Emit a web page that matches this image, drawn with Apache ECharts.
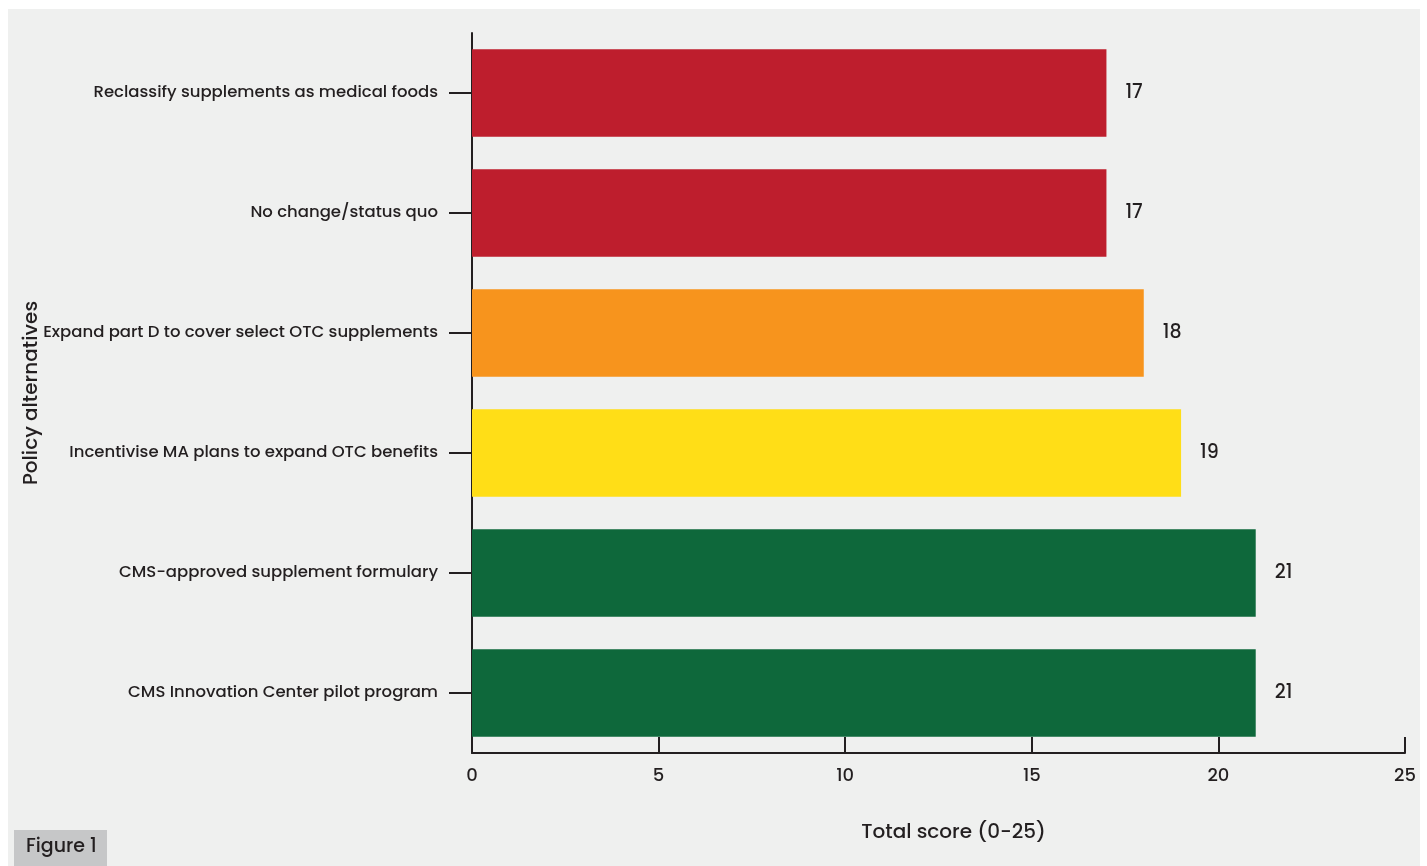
<!DOCTYPE html>
<html>
<head>
<meta charset="utf-8">
<script src="https://cdn.jsdelivr.net/npm/echarts@6/dist/echarts.min.js"></script>
<style>
  * { margin: 0; padding: 0; }
  body { background: #ffffff; width: 1427px; height: 866px; overflow: hidden; }
  #chart { position: absolute; left: 8px; top: 9px; width: 1412px; height: 857px; background: #eff0ef; }
</style>
</head>
<body>
<div id="chart"></div>
<script>
// data
var categories = [
  'Reclassify supplements as medical foods',
  'No change/status quo',
  'Expand part D to cover select OTC supplements',
  'Incentivise MA plans to expand OTC benefits',
  'CMS-approved supplement formulary',
  'CMS Innovation Center pilot program'
]
var scores = [17, 17, 18, 19, 21, 21]
var barColors = ['#be1e2d', '#be1e2d', '#f7941d', '#ffde17', '#0e683b', '#0e683b']

var fontFam = 'Poppins, "Open Sans", sans-serif'
var ink = '#231f20'

var chart = echarts.init(document.getElementById('chart'))
chart.setOption({
  animation: false,
  grid: { left: 464, right: 15, top: 24, bottom: 113, outerBoundsMode: 'none' },
  xAxis: {
    type: 'value',
    min: 0,
    max: 25,
    interval: 5,
    name: 'Total score (0-25)',
    nameLocation: 'middle',
    nameGap: 70,
    nameTextStyle: { fontFamily: fontFam, fontSize: 20, fontWeight: 500, color: ink, padding: [0, 0, 0, 30] },
    axisLine: { show: true, lineStyle: { color: ink, width: 2 } },
    axisTick: { show: true, inside: true, length: 16, lineStyle: { color: ink, width: 2 } },
    axisLabel: { fontFamily: fontFam, fontSize: 18, fontWeight: 500, color: ink, margin: 14 },
    splitLine: { show: false }
  },
  yAxis: {
    type: 'category',
    inverse: true,
    data: categories,
    name: 'Policy alternatives',
    nameLocation: 'middle',
    nameRotate: 90,
    nameGap: 430,
    nameMoveOverlap: false,
    nameTextStyle: { fontFamily: fontFam, fontSize: 20, fontWeight: 500, color: ink },
    axisLine: { show: true, lineStyle: { color: ink, width: 2 } },
    axisTick: { show: true, alignWithLabel: true, length: 23, lineStyle: { color: ink, width: 2 } },
    axisLabel: { fontFamily: fontFam, fontSize: 16.5, fontWeight: 500, color: ink, margin: 34 }
  },
  series: [{
    type: 'bar',
    data: scores.map(function (v, i) {
      return { value: v, itemStyle: { color: barColors[i] } }
    }),
    barCategoryGap: '27%',
    label: {
      show: true,
      position: 'right',
      distance: 19,
      fontFamily: fontFam,
      fontSize: 19,
      fontWeight: 500,
      color: ink
    }
  }],
  graphic: [
    {
      type: 'rect',
      left: 6,
      top: 821,
      shape: { width: 93, height: 36 },
      style: { fill: '#c6c7c8' }
    },
    {
      type: 'text',
      left: 18,
      top: 829,
      style: { text: 'Figure 1', font: '500 19px ' + fontFam, fill: ink }
    }
  ]
})
</script>
</body>
</html>
